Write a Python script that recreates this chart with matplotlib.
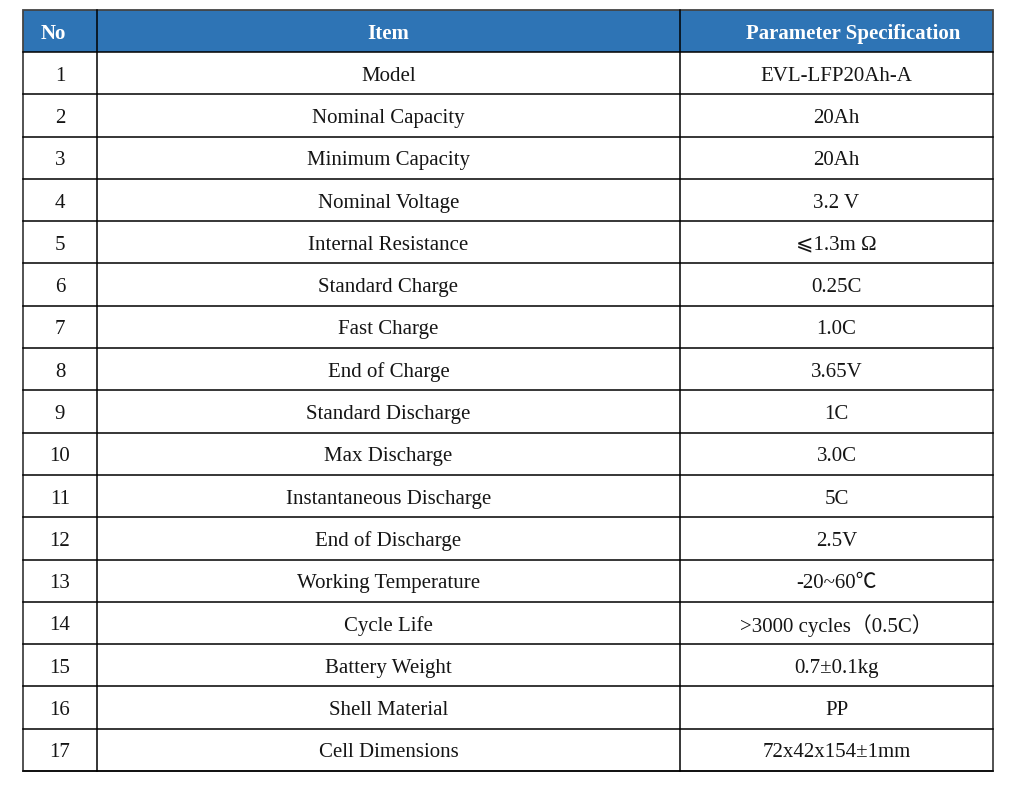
import matplotlib
matplotlib.use("Agg")
import matplotlib.pyplot as plt
from matplotlib.patches import Rectangle

matplotlib.rcParams['font.family'] = ['Liberation Serif', 'Noto Sans CJK SC', 'DejaVu Sans']

headers = ["No", "Item", "Parameter Specification"]
row_no = [str(i) for i in range(1, 18)]
items = ["Model", "Nominal Capacity", "Minimum Capacity", "Nominal Voltage",
         "Internal Resistance", "Standard Charge", "Fast Charge", "End of Charge",
         "Standard Discharge", "Max Discharge", "Instantaneous Discharge",
         "End of Discharge", "Working Temperature", "Cycle Life",
         "Battery Weight", "Shell Material", "Cell Dimensions"]
specs = ["EVL-LFP20Ah-A", "20Ah", "20Ah", "3.2 V", "⩽1.3m Ω", "0.25C", "1.0C",
         "3.65V", "1C", "3.0C", "5C", "2.5V", "-20~60℃", ">3000 cycles（0.5C）",
         "0.7±0.1kg", "PP", "72x42x154±1mm"]

# layout in pixels
W, H = 1010, 792
col_x = [23, 97, 680, 993]
top, head_h = 10, 42
row_h = (771 - 52) / 17
header_shift = [-7, 0, 17]
header_color = "#2E74B5"

fig = plt.figure(figsize=(W / 100, H / 100), dpi=100)
ax = fig.add_axes([0, 0, 1, 1])
ax.set_xlim(0, W)
ax.set_ylim(H, 0)
ax.axis("off")

# header
ax.add_patch(Rectangle((col_x[0], top), col_x[-1] - col_x[0], head_h,
                       facecolor=header_color, edgecolor="none"))
for j, h in enumerate(headers):
    cx = (col_x[j] + col_x[j + 1]) / 2 + header_shift[j]
    ax.text(cx, top + head_h / 2 + 3, h, ha="center", va="center",
            color="white", fontsize=15, fontweight="bold")

# body
y0 = top + head_h
for i in range(len(items)):
    yc = y0 + (i + 0.5) * row_h
    for j, val in enumerate([row_no[i], items[i], specs[i]]):
        cx = (col_x[j] + col_x[j + 1]) / 2
        ax.text(cx, yc + 3, val, ha="center", va="center",
                color="#151515", fontsize=15)

# grid lines
bottom = y0 + len(items) * row_h
lw = 1.1
for k in range(len(items) + 1):
    y = y0 + k * row_h
    ax.plot([col_x[0], col_x[-1]], [y, y], color="black", lw=lw)
for x in col_x[1:-1]:
    ax.plot([x, x], [top, bottom], color="black", lw=lw)
ax.add_patch(Rectangle((col_x[0], top), col_x[-1] - col_x[0], bottom - top,
                       facecolor="none", edgecolor="#444444", lw=1.3))

fig.savefig("out.png", dpi=100)
